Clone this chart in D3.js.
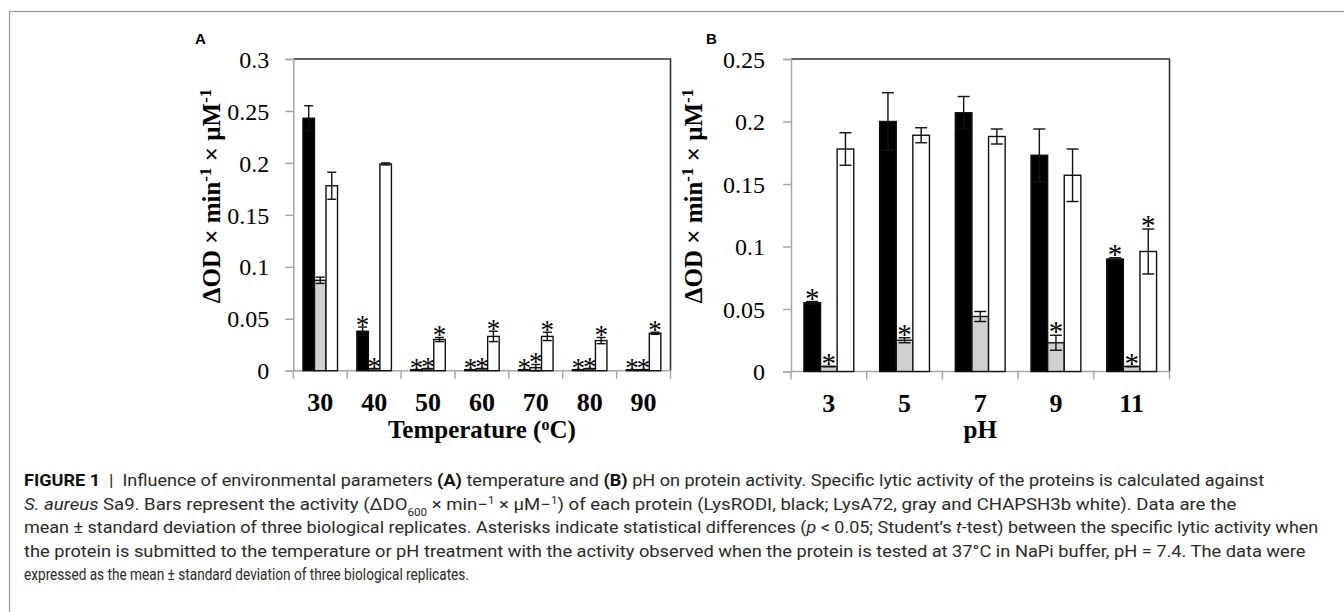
<!DOCTYPE html>
<html><head><meta charset="utf-8">
<script src="https://cdn.jsdelivr.net/npm/d3@7"></script>
<style>
html,body{margin:0;padding:0;background:#fff;}
svg{display:block;}
</style>
</head><body>
<svg id="c" width="1344" height="612"></svg>
<script>
// ---------- DATA ----------
const seriesNames = ["LysRODI", "LysA72", "CHAPSH3b"];
const tempCategories = ["30", "40", "50", "60", "70", "80", "90"];
const tempLysRODI    = [0.243, 0.038, 0.001, 0.001, 0.001, 0.001, 0.001];
const tempLysRODIErr = [0.012, 0.004, 0.000, 0.000, 0.000, 0.000, 0.000];
const tempLysA72     = [0.087, 0.002, 0.002, 0.002, 0.003, 0.002, 0.001];
const tempLysA72Err  = [0.003, 0.000, 0.000, 0.000, 0.003, 0.000, 0.000];
const tempCHAPSH3b   = [0.178, 0.199, 0.030, 0.033, 0.033, 0.029, 0.036];
const tempCHAPSH3bErr= [0.013, 0.001, 0.002, 0.005, 0.004, 0.003, 0.001];
const tempSigLysRODI = [0, 1, 1, 1, 1, 1, 1];
const tempSigLysA72  = [0, 1, 1, 1, 1, 1, 1];
const tempSigCHAPSH3b= [0, 0, 1, 1, 1, 1, 1];
const tempYTicks = [0, 0.05, 0.1, 0.15, 0.2, 0.25, 0.3];

const phCategories = ["3", "5", "7", "9", "11"];
const phLysRODI     = [0.055, 0.200, 0.207, 0.173, 0.090];
const phLysRODIErr  = [0.001, 0.023, 0.013, 0.021, 0.001];
const phLysA72      = [0.004, 0.025, 0.044, 0.023, 0.004];
const phLysA72Err   = [0.000, 0.002, 0.004, 0.006, 0.000];
const phCHAPSH3b    = [0.178, 0.189, 0.188, 0.157, 0.096];
const phCHAPSH3bErr = [0.013, 0.006, 0.006, 0.021, 0.018];
const phSigLysRODI  = [1, 0, 0, 0, 1];
const phSigLysA72   = [1, 1, 0, 1, 1];
const phSigCHAPSH3b = [0, 0, 0, 0, 1];
const phYTicks = [0, 0.05, 0.1, 0.15, 0.2, 0.25];

const seriesFill = ["#000000", "#d0d0d0", "#ffffff"];

// ---------- DRAW ----------
const svg = d3.select("#c");
const serif = "'Liberation Serif','Times New Roman',serif";

// outer frame
svg.append("rect").attr("x", 9.5).attr("y", 11.5).attr("width", 1400).attr("height", 700)
  .attr("fill", "none").attr("stroke", "#9a9a9a").attr("stroke-width", 1.2);

function panel(opt) {
  const g = svg.append("g");
  const x = d3.scaleBand().domain(opt.cats).range([opt.x0, opt.x1]).padding(0);
  const xs = d3.scaleBand().domain([0, 1, 2]).range([0, x.bandwidth()]).paddingInner(0).paddingOuter(opt.pad);
  const y = d3.scaleLinear().domain([0, opt.ymax]).range([opt.y0, opt.y1]);

  // frame top + right (dark)
  g.append("path").attr("d", `M${opt.x0},${y(opt.ymax)}H${opt.x1}V${y(0)}`)
    .attr("fill", "none").attr("stroke", "#333").attr("stroke-width", 1.6);

  // y axis
  const ya = d3.axisLeft(y).tickValues(opt.yticks).tickSize(8).tickPadding(opt.tickPad)
    .tickFormat(d => d === 0 ? "0" : String(+d.toFixed(2)));
  const yg = g.append("g").attr("transform", `translate(${opt.x0},0)`).call(ya);
  yg.select(".domain").attr("stroke", "#a8a8a8").attr("stroke-width", 1.5);
  yg.selectAll(".tick line").attr("stroke", "#a8a8a8").attr("stroke-width", 1.5);
  yg.selectAll(".tick text").attr("font-family", serif).attr("font-size", 24).attr("fill", "#000")
    .attr("dy", "0.34em");

  // x axis: ticks at category boundaries
  const xg = g.append("g").attr("transform", `translate(0,${y(0)})`);
  xg.append("line").attr("x1", opt.x0).attr("x2", opt.x1).attr("stroke", "#a8a8a8").attr("stroke-width", 1.5);
  const bounds = opt.cats.map(c => x(c)).concat([x(opt.cats[opt.cats.length - 1]) + x.bandwidth()]);
  xg.selectAll("line.t").data(bounds).join("line").attr("class", "t")
    .attr("x1", d => d).attr("x2", d => d).attr("y1", 0).attr("y2", 8)
    .attr("stroke", "#a8a8a8").attr("stroke-width", 1.5);
  xg.selectAll("text").data(opt.cats).join("text")
    .attr("x", d => x(d) + x.bandwidth() / 2).attr("y", 40)
    .attr("text-anchor", "middle").attr("font-family", serif).attr("font-weight", "bold")
    .attr("font-size", 26).attr("fill", "#000").text(d => d);

  // bars
  const rows = [];
  opt.cats.forEach((c, i) => {
    for (let s = 0; s < 3; s++) {
      rows.push({ c, s, v: opt.vals[s][i], e: opt.errs[s][i], sig: opt.sigs[s][i] });
    }
  });
  const bx = d => x(d.c) + xs(d.s);
  g.selectAll("rect.bar").data(rows).join("rect").attr("class", "bar")
    .attr("x", bx).attr("width", xs.bandwidth())
    .attr("y", d => y(d.v)).attr("height", d => y(0) - y(d.v))
    .attr("fill", d => seriesFill[d.s]).attr("stroke", "#111").attr("stroke-width", 1.4);

  // error bars
  const eg = g.selectAll("g.err").data(rows).join("g").attr("class", "err");
  const cx = d => bx(d) + xs.bandwidth() / 2;
  eg.append("line").attr("x1", cx).attr("x2", cx)
    .attr("y1", d => y(Math.max(0, d.v - d.e))).attr("y2", d => y(d.v + d.e))
    .attr("stroke", "#111").attr("stroke-width", 1.4);
  [1, -1].forEach(sg => {
    eg.append("line").attr("x1", d => cx(d) - opt.cap / 2).attr("x2", d => cx(d) + opt.cap / 2)
      .attr("y1", d => y(Math.max(0, d.v + sg * d.e))).attr("y2", d => y(Math.max(0, d.v + sg * d.e)))
      .attr("stroke", "#111").attr("stroke-width", 1.4);
  });

  // asterisks
  g.selectAll("text.sig").data(rows.filter(d => d.sig)).join("text").attr("class", "sig")
    .attr("x", cx).attr("y", d => y(d.v + d.e) + opt.astOff)
    .attr("text-anchor", "middle").attr("font-family", serif).attr("font-size", opt.astSize)
    .attr("fill", "#000").text("*");

  // y label
  const yl = g.append("text")
    .attr("transform", `translate(${opt.ylx},${opt.yly}) rotate(-90)`)
    .attr("text-anchor", "middle").attr("font-family", serif).attr("font-weight", "bold")
    .attr("font-size", 25).attr("fill", "#000");
  yl.append("tspan").text("ΔOD × min");
  yl.append("tspan").attr("baseline-shift", "super").attr("font-size", 17).text("-1");
  yl.append("tspan").text(" × μM");
  yl.append("tspan").attr("baseline-shift", "super").attr("font-size", 17).text("-1");

  // x title
  const xt = g.append("text").attr("x", (opt.x0 + opt.x1) / 2).attr("y", 438)
    .attr("text-anchor", "middle").attr("font-family", serif).attr("font-weight", "bold")
    .attr("font-size", 25).attr("fill", "#000");
  opt.xtitle(xt);

  // panel letter
  svg.append("text").attr("x", opt.lx).attr("y", 43.5).attr("font-family", "'Liberation Sans',Arial,sans-serif")
    .attr("font-weight", "bold").attr("font-size", 15).attr("fill", "#000").text(opt.letter);
}

panel({
  cats: tempCategories, x0: 293.3, x1: 670.5, y0: 370.7, y1: 59, ymax: 0.3, yticks: tempYTicks,
  vals: [tempLysRODI, tempLysA72, tempCHAPSH3b], errs: [tempLysRODIErr, tempLysA72Err, tempCHAPSH3bErr],
  sigs: [tempSigLysRODI, tempSigLysA72, tempSigCHAPSH3b], pad: 0.84, cap: 9, tickPad: 16,
  astOff: 7, astSize: 27, ylx: 220, yly: 196, lx: 195, letter: "A",
  xtitle: t => { t.append("tspan").text("Temperature ("); t.append("tspan").attr("baseline-shift", "super").attr("font-size", 16).text("o"); t.append("tspan").text("C)"); }
});
panel({
  cats: phCategories, x0: 791, x1: 1169.5, y0: 371.5, y1: 59, ymax: 0.25, yticks: phYTicks,
  vals: [phLysRODI, phLysA72, phCHAPSH3b], errs: [phLysRODIErr, phLysA72Err, phCHAPSH3bErr],
  sigs: [phSigLysRODI, phSigLysA72, phSigCHAPSH3b], pad: 0.78, cap: 12, tickPad: 18,
  astOff: 6, astSize: 29, ylx: 702, yly: 196, lx: 706, letter: "B",
  xtitle: t => t.text("pH")
});

// ---------- CAPTION ----------
const capFont = "Roboto,'Liberation Sans',sans-serif";
const capLines = [
  { y: 486, right: 1265, parts: [["FIGURE 1", "b"], ["  |  Influence of environmental parameters ", ""], ["(A)", "b"], [" temperature and ", ""], ["(B)", "b"], [" pH on protein activity. Specific lytic activity of the proteins is calculated against", ""]] },
  { y: 510, right: 1237, parts: [["S. aureus", "i"], [" Sa9. Bars represent the activity (ΔDO", ""], ["600", "sub"], [" × min−", ""], ["1", "sup"], [" × μM−", ""], ["1", "sup"], [") of each protein (LysRODI, black; LysA72, gray and CHAPSH3b white). Data are the", ""]] },
  { y: 533.5, right: 1320, parts: [["mean ± standard deviation of three biological replicates. Asterisks indicate statistical differences (", ""], ["p", "i"], [" < 0.05; Student’s ", ""], ["t", "i"], ["-test) between the specific lytic activity when", ""]] },
  { y: 557, right: 1306, parts: [["the protein is submitted to the temperature or pH treatment with the activity observed when the protein is tested at 37°C in NaPi buffer, pH = 7.4. The data were", ""]] },
  { y: 580.5, right: 469, parts: [["expressed as the mean ± standard deviation of three biological replicates.", ""]] }
];
capLines.forEach(L => {
  const t = svg.append("text").attr("x", 24).attr("y", L.y).attr("font-family", capFont)
    .attr("font-size", 16).attr("fill", "#2a2a2a").style("white-space", "pre");
  L.parts.forEach(([s, k]) => {
    const ts = t.append("tspan").text(s);
    if (k === "b") ts.attr("font-weight", "bold").attr("fill", "#111");
    if (k === "i") ts.attr("font-style", "italic");
    if (k === "sub") ts.attr("font-size", 10).attr("baseline-shift", "sub");
    if (k === "sup") ts.attr("font-size", 10).attr("baseline-shift", "super");
  });
  const w = t.node().getComputedTextLength();
  const k = (L.right - 24) / w;
  t.attr("transform", `translate(24,0) scale(${k},1) translate(-24,0)`);
});
</script>
</body></html>
